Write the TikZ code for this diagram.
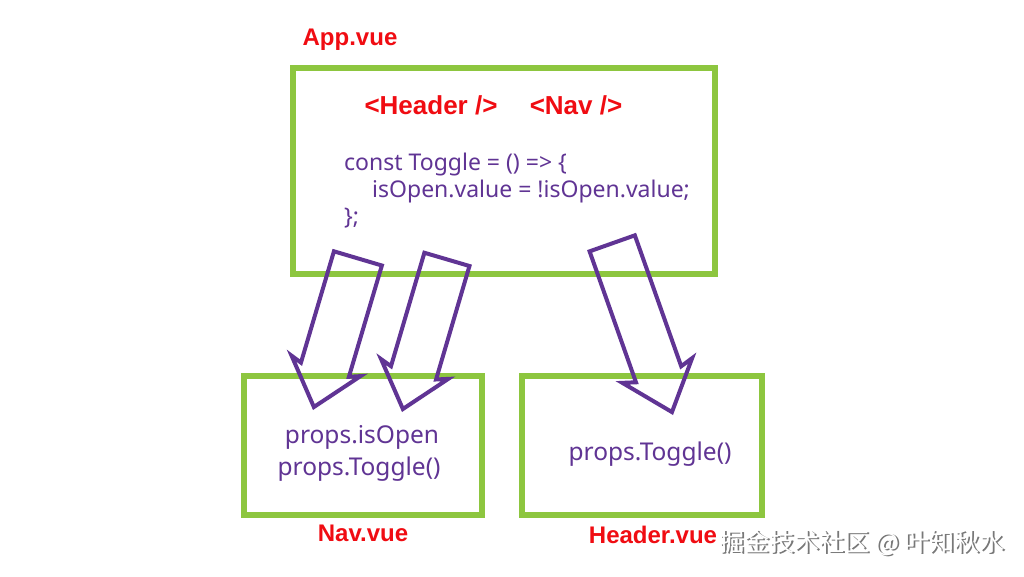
\documentclass[tikz,border=0pt]{standalone}
\usepackage{fontspec}
\setmainfont{Noto Sans}
\newfontfamily\labelfont{Liberation Sans}
\newfontfamily\cjk{Noto Sans CJK SC}
\usepackage{xcolor}
\usepackage{tikz}
\usetikzlibrary{shapes.arrows}
\definecolor{vuegreen}{RGB}{141,198,63}
\definecolor{propspurple}{RGB}{96,52,148}
\definecolor{labelred}{RGB}{240,12,18}
\definecolor{markgray}{RGB}{120,120,120}

\begin{document}
\begin{tikzpicture}[x=1pt, y=-1pt,
  filebox/.style={rectangle, draw=vuegreen, line width=6pt, inner sep=0pt},
  filename/.style={text=labelred, font=\labelfont\bfseries\fontsize{24}{28}\selectfont, inner sep=0pt},
  tagname/.style={text=labelred, font=\labelfont\bfseries\fontsize{26}{30}\selectfont, inner sep=0pt},
  codetext/.style={text=propspurple, font=\fontsize{23}{27}\selectfont, inner sep=0pt},
  passarrow/.style={single arrow, draw=propspurple, line width=4pt, inner xsep=0pt, single arrow tip angle=80, single arrow head indent=4pt, anchor=tip}]
\fill[white] (0,0) rectangle (1024,576);
\useasboundingbox (0,0) rectangle (1024,576);
% the three components
\node[filebox, minimum width=422pt, minimum height=206pt] (app) at (504,171) {};
\node[filebox, minimum width=238pt, minimum height=139pt] (nav) at (363,445.5) {};
\node[filebox, minimum width=240pt, minimum height=139pt] (header) at (642,445.5) {};
\node[filename] (applabel) at (350,40) {App.vue};
\node[filename] (navlabel) at (363,533) {Nav.vue};
\node[filename] (headerlabel) at (653,535) {Header.vue};
% inside App.vue
\node[tagname] (headertag) at (431,105) {<Header />};
\node[tagname] (navtag) at (576,105) {<Nav />};
\node[codetext, anchor=base west] (code1) at (344,170) {const Toggle = () => \{};
\node[codetext, anchor=base west] (code2) at (372,197) {isOpen.value = !isOpen.value;};
\node[codetext, anchor=base west] (code3) at (344,224) {\};};
% props received
\node[codetext, font=\fontsize{24.5}{28}\selectfont, anchor=base] (navprop1) at (362,443) {props.isOpen};
\node[codetext, font=\fontsize{24.5}{28}\selectfont, anchor=base] (navprop2) at (359,475) {props.Toggle()};
\node[codetext, font=\fontsize{24.5}{28}\selectfont, anchor=base] (headerprop) at (650,460) {props.Toggle()};
% hollow arrows passing props down
\node[passarrow, minimum height=155pt, inner ysep=23pt, single arrow head extend=11pt, rotate=253.5] (passopen) at (313,410) {};
\node[passarrow, minimum height=156pt, inner ysep=21.5pt, single arrow head extend=11.5pt, rotate=253.6] (passtoggle) at (402,412) {};
\node[passarrow, minimum height=179pt, inner ysep=22pt, single arrow head extend=13pt, rotate=289.5] (passheader) at (673,415) {};
% watermark
\node[text=markgray, font=\cjk\fontsize{25}{28}\selectfont, anchor=east, inner sep=0pt] (markshadow) at (1006.5,544.5) {掘金技术社区 @ 叶知秋水};
\node[text=white, font=\cjk\fontsize{25}{28}\selectfont, anchor=east, inner sep=0pt] (mark) at (1005,543) {掘金技术社区 @ 叶知秋水};
\end{tikzpicture}
\end{document}
